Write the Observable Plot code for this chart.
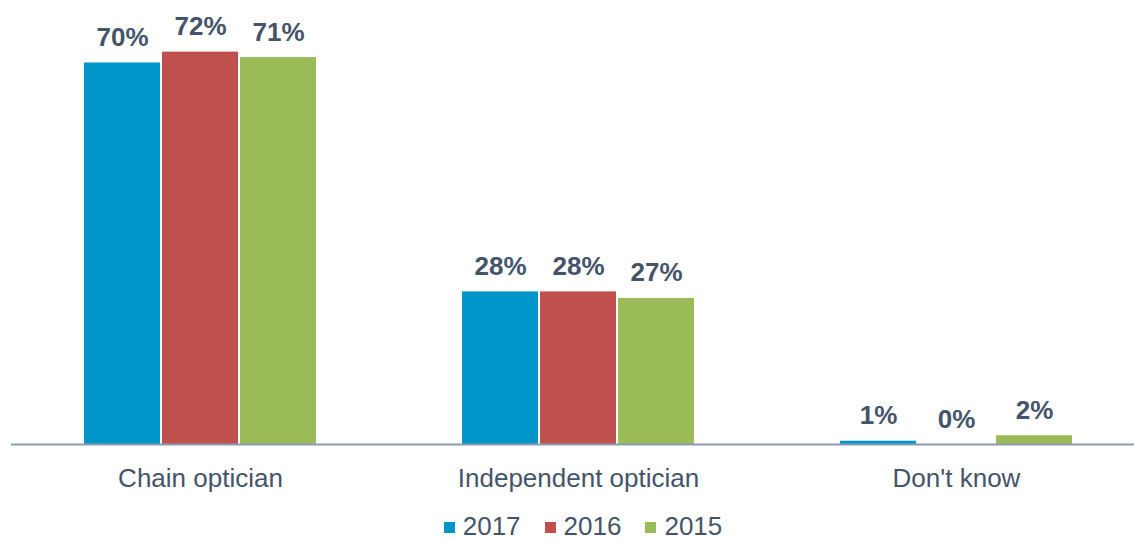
<!DOCTYPE html>
<html><head><meta charset="utf-8">
<script src="https://cdn.jsdelivr.net/npm/d3@7"></script>
<script src="https://cdn.jsdelivr.net/npm/@observablehq/plot@0.6"></script>
<style>
html,body{margin:0;padding:0;background:#fff;overflow:hidden;font-family:"Liberation Sans",Arial,sans-serif;}
#legend{display:flex;justify-content:center;align-items:center;height:20px;line-height:20px;font-size:26px;color:#44546A;transform:translateX(16px);}
#legend .item{display:flex;align-items:center;margin:0 12px;height:20px;}
#legend .sw{width:11px;height:11px;margin-right:8px;margin-top:3px;}
</style></head>
<body><div id="chart"></div><div id="legend"></div>
<script>
const categories = ["Chain optician", "Independent optician", "Don't know"];
const years = ["2017", "2016", "2015"];
const values2017 = [70, 28, 0.6];
const values2016 = [72, 28, 0];
const values2015 = [71, 26.8, 1.6];
const colors = ["#0096C9", "#C0504D", "#9BBB59"];

const series = [values2017, values2016, values2015];
const data = [];
categories.forEach((c, i) => years.forEach((y, j) => data.push({category: c, year: y, value: series[j][i]})));

const chart = Plot.plot({
  width: 1134, height: 516,
  marginLeft: 10, marginRight: -12, marginTop: 8, marginBottom: 72,
  style: {fontFamily: "Liberation Sans, Arial, sans-serif", fontSize: "26px", color: "#44546A", background: "#fff"},
  fx: {domain: categories, padding: 0, label: null, tickSize: 0, tickPadding: 24},
  x: {domain: years, paddingInner: 0.03, paddingOuter: 0.93, axis: null},
  y: {domain: [0, 80], axis: null},
  color: {domain: years, range: colors},
  facet: {data, x: "category"},
  marks: [
    Plot.barY(data, {x: "year", y: "value", fill: "year"}),
    Plot.ruleY([0], {stroke: "#8C9BB0", strokeWidth: 2}),
    Plot.text(data, {x: "year", y: "value", text: d => Math.round(d.value) + "%", lineAnchor: "bottom", dy: -17, fontWeight: "bold", fill: "#44546A", fontSize: 26})
  ]
});
document.getElementById("chart").appendChild(chart);

const legend = document.getElementById("legend");
years.forEach((y, j) => {
  const it = document.createElement("div"); it.className = "item";
  const sw = document.createElement("span"); sw.className = "sw"; sw.style.background = colors[j];
  const t = document.createElement("span"); t.textContent = y;
  it.appendChild(sw); it.appendChild(t); legend.appendChild(it);
});
</script>
</body></html>
